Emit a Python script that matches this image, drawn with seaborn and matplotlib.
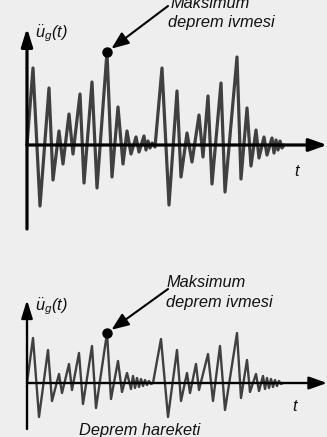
import numpy as np
import pandas as pd
import matplotlib
matplotlib.use("Agg")
import matplotlib.pyplot as plt
import seaborn as sns

# ---------------- data (time in s, ground acceleration in g) ----------------
top_t = [0.0, 0.6, 1.3, 2.2, 2.6, 3.2, 3.6, 4.2, 4.6, 5.3,
         5.7, 6.5, 7.0, 8.0, 8.5, 9.1, 9.6, 10.0, 10.4, 10.9,
         11.2, 11.7, 11.9, 12.1, 12.3, 12.5, 12.8,
         13.5, 14.2, 15.0, 15.4, 16.0, 16.5, 17.2, 17.6, 18.1, 18.5,
         19.4, 19.8, 21.0, 21.4, 22.0, 22.4, 22.9, 23.2, 23.7, 24.0,
         24.5, 24.7, 24.9, 25.1, 25.3, 25.5, 25.7]
top_a = [0.00, 0.77, -0.61, 0.57, -0.35, 0.14, -0.19, 0.31, -0.09, 0.51,
         -0.38, 0.63, -0.43, 0.93, -0.32, 0.38, -0.19, 0.14, -0.09, 0.08,
         -0.07, 0.09, -0.05, 0.04, -0.03, 0.02, -0.02,
         0.77, -0.60, 0.54, -0.32, 0.12, -0.17, 0.30, -0.12, 0.49, -0.39,
         0.62, -0.47, 0.88, -0.34, 0.37, -0.21, 0.15, -0.13, 0.08, -0.10,
         0.07, -0.08, 0.05, -0.05, 0.04, -0.03, 0.00]

bot_t = [0.0, 0.6, 1.2, 2.1, 2.5, 3.2, 3.5, 4.2, 4.5, 5.2,
         5.6, 6.5, 6.9, 8.0, 8.4, 9.1, 9.5, 10.0, 10.4, 10.6,
         10.8, 11.0, 11.2, 11.4, 11.6, 11.8, 12.0, 12.2, 12.4, 12.6,
         13.4, 14.1, 15.0, 15.4, 16.0, 16.3, 16.9, 17.2, 18.1, 18.6,
         19.3, 19.8, 21.0, 21.4, 22.0, 22.3, 22.9, 23.2, 23.6, 23.8,
         24.0, 24.2, 24.4, 24.6, 24.8, 25.0, 25.2, 25.4, 25.6]
bot_a = [0.00, 0.45, -0.34, 0.33, -0.18, 0.09, -0.10, 0.19, -0.07, 0.30,
         -0.21, 0.37, -0.25, 0.50, -0.16, 0.22, -0.09, 0.10, -0.06, 0.07,
         -0.05, 0.05, -0.04, 0.04, -0.03, 0.03, -0.02, 0.02, -0.01, 0.00,
         0.44, -0.34, 0.33, -0.18, 0.10, -0.10, 0.19, -0.07, 0.29, -0.18,
         0.37, -0.27, 0.50, -0.15, 0.23, -0.09, 0.09, -0.08, 0.07, -0.06,
         0.05, -0.05, 0.04, -0.04, 0.03, -0.03, 0.02, -0.01, 0.00]

y_label = r"$\ddot{u}_g(t)$"
x_label = "t"
peak_label = ["Maksimum", "deprem ivmesi"]
caption = "Deprem hareketi"

# ---------------- style ----------------
sns.set_theme(style="white")
plt.rcParams["font.family"] = ["Liberation Sans", "DejaVu Sans"]
plt.rcParams["mathtext.fontset"] = "custom"
plt.rcParams["mathtext.it"] = "Liberation Sans:italic"
plt.rcParams["mathtext.rm"] = "Liberation Sans:italic"
plt.rcParams["mathtext.sf"] = "Liberation Sans:italic"

BG = "#eeeeee"
SIG = "#404040"
W, H = 327, 437

fig = plt.figure(figsize=(W / 100, H / 100), dpi=100, facecolor=BG)

X0 = 27  # pixel column of the vertical axis


def panel(t, a, zero_px, ax_top_px, ax_bot_px, lw_sig, lw_ax, fs,
          text_rows, label_row, t_row, arrow_start_row):
    ax = fig.add_axes([0, 0, 1, 1])
    ax.set_xlim((0 - X0) / 10, (W - X0) / 10)
    ax.set_ylim((zero_px - H) / 100, zero_px / 100)
    ax.axis("off")
    ax.patch.set_alpha(0)

    px = lambda x: (x - X0) / 10
    py = lambda y: (zero_px - y) / 100

    df = pd.DataFrame({"t": t, "a": a})
    sns.lineplot(data=df, x="t", y="a", ax=ax, color=SIG, linewidth=lw_sig,
                 sort=False, estimator=None, zorder=2)

    # axes with arrow heads
    ax.annotate("", xy=(px(W), 0), xytext=(0, 0),
                arrowprops=dict(arrowstyle="-|>,head_length=0.9,head_width=0.32",
                                color="black", lw=lw_ax, shrinkA=0, shrinkB=0,
                                mutation_scale=12), zorder=3)
    ax.annotate("", xy=(0, py(ax_top_px)), xytext=(0, py(ax_bot_px)),
                arrowprops=dict(arrowstyle="-|>,head_length=0.9,head_width=0.28",
                                color="black", lw=lw_ax, shrinkA=0, shrinkB=0,
                                mutation_scale=12), zorder=3)

    # peak marker (first occurrence of the maximum)
    i = int(np.argmax(a))
    ax.plot([t[i]], [a[i]], "o", color="black", markersize=6.5, zorder=4)

    # arrow from label to peak
    ax.annotate("", xy=(t[i], a[i]), xytext=(px(168), py(arrow_start_row)),
                arrowprops=dict(arrowstyle="-|>,head_length=0.75,head_width=0.3",
                                color="black", lw=1.5, shrinkA=0, shrinkB=4,
                                mutation_scale=14), zorder=4)

    # texts
    ax.text(px(text_rows[0][0]), py(text_rows[0][1]), peak_label[0],
            fontsize=fs, fontstyle="italic", ha="left", va="baseline", color="#111111")
    ax.text(px(text_rows[1][0]), py(text_rows[1][1]), peak_label[1],
            fontsize=fs, fontstyle="italic", ha="left", va="baseline", color="#111111")
    ax.text(px(label_row[0]), py(label_row[1]), y_label, fontsize=fs,
            ha="left", va="baseline", color="#111111")
    ax.text(px(t_row[0]), py(t_row[1]), x_label, fontsize=fs,
            fontstyle="italic", ha="center", va="baseline", color="#111111")
    return ax, px, py


panel(top_t, top_a, 145, 28, 229, 2.3, 2.3, 11.8,
      [(171, 8), (168, 27)], (35, 37), (297, 176), 6)
ax_b, pxb, pyb = panel(bot_t, bot_a, 383, 300, 429, 1.7, 1.7, 11.8,
                       [(167, 287), (166, 307)], (35, 310), (295, 411), 289)
ax_b.text(pxb(140), pyb(435), caption, fontsize=11.8, fontstyle="italic",
          ha="center", va="baseline", color="#111111")

fig.savefig("out.png", dpi=100, facecolor=BG)
